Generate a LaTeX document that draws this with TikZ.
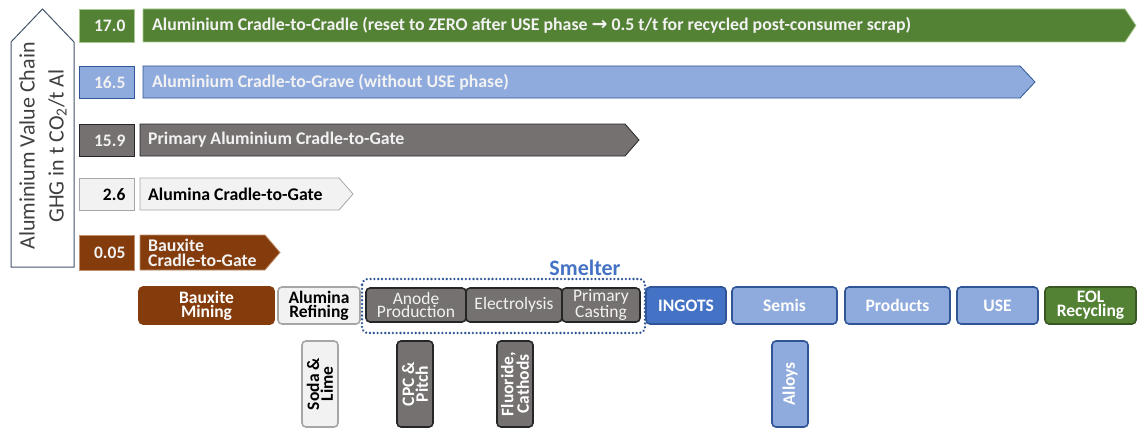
\documentclass[tikz,border=0pt]{standalone}
\usepackage{fontspec}
\setmainfont{Carlito}
\newfontfamily\arrowfont{DejaVu Sans}

\definecolor{cgreen}{HTML}{548235}
\definecolor{cgreenbd}{HTML}{385723}
\definecolor{cgreenln}{HTML}{A9C98E}
\definecolor{cblue}{HTML}{8FAADC}
\definecolor{cbluebd}{HTML}{2F5597}
\definecolor{cingot}{HTML}{4472C4}
\definecolor{cgrey}{HTML}{767171}
\definecolor{cgreybd}{HTML}{262626}
\definecolor{clight}{HTML}{F2F2F2}
\definecolor{clightbd}{HTML}{A6A6A6}
\definecolor{cbrown}{HTML}{843C0C}
\definecolor{cbrownln}{HTML}{C0906E}
\definecolor{axisbd}{HTML}{44546A}
\definecolor{ctext}{HTML}{404040}

\newcommand\fs{\fontsize{17.5}{13.8}\selectfont}

\tikzset{
  val/.style={anchor=north west, minimum height=#1, inner xsep=9pt, inner ysep=0pt,
    text width=37pt, align=right, font=\fs\bfseries, line width=0.8pt},
  lbl/.style={anchor=west, inner sep=0pt, align=left, font=\fontsize{17.8}{14.8}\selectfont\bfseries},
  bar/.style={line width=0.8pt},
  proc/.style={rounded corners=4pt, line width=1.6pt, align=center, inner sep=0pt,
    font=\fs\bfseries, text=white},
  vproc/.style={proc, rotate=90, minimum width=86pt, minimum height=36pt},
  smelt/.style={proc, fill=cgrey, draw=cgreybd, text=clight, font=\fs, minimum height=34pt},
}

\begin{document}
\begin{tikzpicture}[x=1pt,y=-1pt]
\useasboundingbox (0,0) rectangle (1137,428);

% vertical axis arrow
\draw[axisbd, line width=1pt, fill=white] (11,267) -- (11,42) -- (42.5,9) -- (74,42) -- (74,267) -- cycle;
\node[rotate=90, align=center, text=ctext, inner sep=0pt,
  font=\fontsize{22}{29}\selectfont] (axis) at (43,146)
  {Aluminium Value Chain\\GHG in t CO\textsubscript{2}/t Al};

% cumulative GHG bars
\filldraw[bar, fill=cgreen, draw=cgreenln] (143,9) -- (1125,9) -- (1136,25.5) -- (1125,42) -- (143,42) -- cycle;
\filldraw[bar, fill=cblue, draw=cbluebd] (143,66) -- (1020,66) -- (1035,82) -- (1020,98) -- (143,98) -- cycle;
\filldraw[bar, fill=cgrey, draw=cgreybd] (140,124) -- (625,124) -- (639,140) -- (625,156) -- (140,156) -- cycle;
\filldraw[bar, fill=clight, draw=clightbd] (140,178) -- (339,178) -- (353,194) -- (339,210) -- (140,210) -- cycle;
\filldraw[bar, fill=cbrown, draw=cbrownln] (140,235) -- (265,235) -- (280,252.5) -- (265,270) -- (140,270) -- cycle;

\node[val=33pt, fill=cgreen, draw=cgreenln, text=clight] (v1) at (79,9) {17.0};
\node[val=32pt, fill=cblue, draw=cbluebd, text=clight] (v2) at (79,66) {16.5};
\node[val=32pt, fill=cgrey, draw=cgreybd, text=clight] (v3) at (79,124) {15.9};
\node[val=32pt, fill=clight, draw=clightbd, text=black] (v4) at (79,178) {2.6};
\node[val=35pt, fill=cbrown, draw=cbrownln, text=clight] (v5) at (79,235) {0.05};

\node[lbl, text=clight] (t1) at (152,25.5)
  {Aluminium Cradle-to-Cradle (reset to ZERO after USE phase {\arrowfont\bfseries\fontsize{19}{19}\selectfont →} 0.5 t/t for recycled post-consumer scrap)};
\node[lbl, text=clight] (t2) at (152,82) {Aluminium Cradle-to-Grave (without USE phase)};
\node[lbl, text=clight] (t3) at (148,140) {Primary Aluminium Cradle-to-Gate};
\node[lbl, text=black] (t4) at (148,194) {Alumina Cradle-to-Gate};
\node[lbl, text=clight] (t5) at (148,252.5) {Bauxite\\Cradle-to-Gate};

% smelter grouping
\draw[cbluebd, line width=2.6pt, line cap=round, dash pattern=on 0.01pt off 3.8pt, rounded corners=6pt]
  (362,279) rectangle (645,333);
\node[font=\fontsize{22}{22}\selectfont\bfseries, text=cingot, inner sep=0pt] (smelter) at (585,268) {Smelter};

% process chain
\node[proc, fill=cbrown, draw=cbrown, minimum width=135pt, minimum height=37pt] (bm) at (206.5,305.5) {Bauxite\\Mining};
\node[proc, fill=clight, draw=clightbd, text=black, minimum width=82pt, minimum height=37pt] (ar) at (319,305.5) {Alumina\\Refining};
\node[smelt, minimum width=100pt] (ap) at (416,305) {Anode\\Production};
\node[smelt, minimum width=96pt] (el) at (514,305) {Electrolysis};
\node[smelt, minimum width=78pt] (pc) at (601,305) {Primary\\Casting};
\node[proc, fill=cingot, draw=cbluebd, minimum width=80pt, minimum height=37pt] (ing) at (686,305.5) {INGOTS};
\node[proc, fill=cblue, draw=cbluebd, minimum width=105pt, minimum height=37pt] (semis) at (784.5,305.5) {Semis};
\node[proc, fill=cblue, draw=cbluebd, minimum width=105pt, minimum height=37pt] (prod) at (897.5,305.5) {Products};
\node[proc, fill=cblue, draw=cbluebd, minimum width=81pt, minimum height=37pt] (use) at (997.5,305.5) {USE};
\node[proc, fill=cgreen, draw=cgreenbd, minimum width=91pt, minimum height=37pt] (eol) at (1090.5,305.5) {EOL\\Recycling};

% auxiliary inputs
\node[vproc, fill=clight, draw=clightbd, text=black] (soda) at (320,384) {Soda \&\\Lime};
\node[vproc, fill=cgrey, draw=cgreybd] (cpc) at (415,384) {CPC \&\\Pitch};
\node[vproc, fill=cgrey, draw=cgreybd] (fluor) at (515,384) {Fluoride,\\Cathods};
\node[vproc, fill=cblue, draw=cbluebd] (alloys) at (790,384) {Alloys};
\end{tikzpicture}
\end{document}
